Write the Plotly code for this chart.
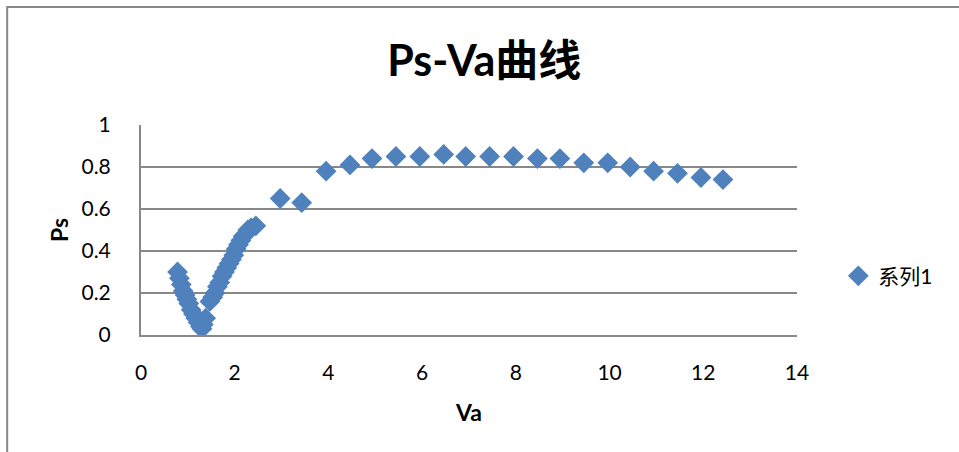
import plotly.graph_objects as go

# Measured Ps against Va
va = [0.78, 0.82, 0.86, 0.90, 0.94, 0.98, 1.02, 1.07, 1.12, 1.17, 1.22, 1.27, 1.30,
      1.33, 1.38, 1.47, 1.53, 1.58, 1.63, 1.68, 1.73, 1.78, 1.83, 1.88, 1.93, 1.98,
      2.03, 2.08, 2.13, 2.18, 2.23, 2.28, 2.35, 2.45,
      2.97, 3.43, 3.95, 4.46, 4.93, 5.44, 5.95, 6.46, 6.93, 7.44, 7.95, 8.46, 8.94,
      9.45, 9.96, 10.44, 10.94, 11.45, 11.95, 12.42]
ps = [0.30, 0.27, 0.24, 0.21, 0.19, 0.17, 0.15, 0.12, 0.10, 0.08, 0.06, 0.04, 0.03,
      0.05, 0.08, 0.16, 0.18, 0.20, 0.23, 0.25, 0.28, 0.30, 0.32, 0.34, 0.36, 0.38,
      0.41, 0.43, 0.45, 0.47, 0.48, 0.50, 0.51, 0.52,
      0.65, 0.63, 0.78, 0.81, 0.84, 0.85, 0.85, 0.86, 0.85, 0.85, 0.85, 0.84, 0.84,
      0.82, 0.82, 0.80, 0.78, 0.77, 0.75, 0.74]

x_ticks = [0, 2, 4, 6, 8, 10, 12, 14]
y_ticks = [0, 0.2, 0.4, 0.6, 0.8, 1]

FONT = "Lato, 'Noto Sans CJK SC', sans-serif"
GRID = "#888888"

fig = go.Figure()
fig.add_trace(go.Scatter(
    x=va, y=ps, mode="markers", name="系列1",
    marker=dict(symbol="diamond", size=16, color="#4F81BD",
                line=dict(width=0)),
))

fig.update_layout(
    width=959, height=452,
    margin=dict(l=141, r=162, t=125, b=117),
    paper_bgcolor="white", plot_bgcolor="white",
    font=dict(family=FONT, size=21, color="#000000"),
    title=dict(text="<b>Ps-Va曲线</b>", x=0.505, xanchor="center",
               y=0.865, yanchor="middle",
               font=dict(family=FONT, size=43, color="#000000")),
    xaxis=dict(range=[0, 14], tickvals=x_ticks, showgrid=False,
               showline=True, linecolor=GRID, linewidth=2, zeroline=False,
               ticks="", ticklabelstandoff=18,
               title=dict(text="<b>Va</b>", font=dict(size=23), standoff=22)),
    yaxis=dict(range=[0, 1], tickvals=y_ticks, showgrid=True, gridcolor=GRID,
               gridwidth=1.5, showline=True, linecolor=GRID, linewidth=2,
               zeroline=False, ticks="", ticklabelstandoff=24,
               title=dict(text="<b>Ps</b>", font=dict(size=23), standoff=6)),
    showlegend=True,
    legend=dict(x=1.063, y=0.28, xanchor="left", yanchor="middle",
                bgcolor="rgba(0,0,0,0)", font=dict(size=21),
                itemwidth=30),
    shapes=[dict(type="rect", xref="paper", yref="paper",
                 x0=-0.204, x1=1.3, y0=-0.7, y1=1.562,
                 line=dict(color=GRID, width=2), layer="below")],
)

fig.write_html("out.html")
